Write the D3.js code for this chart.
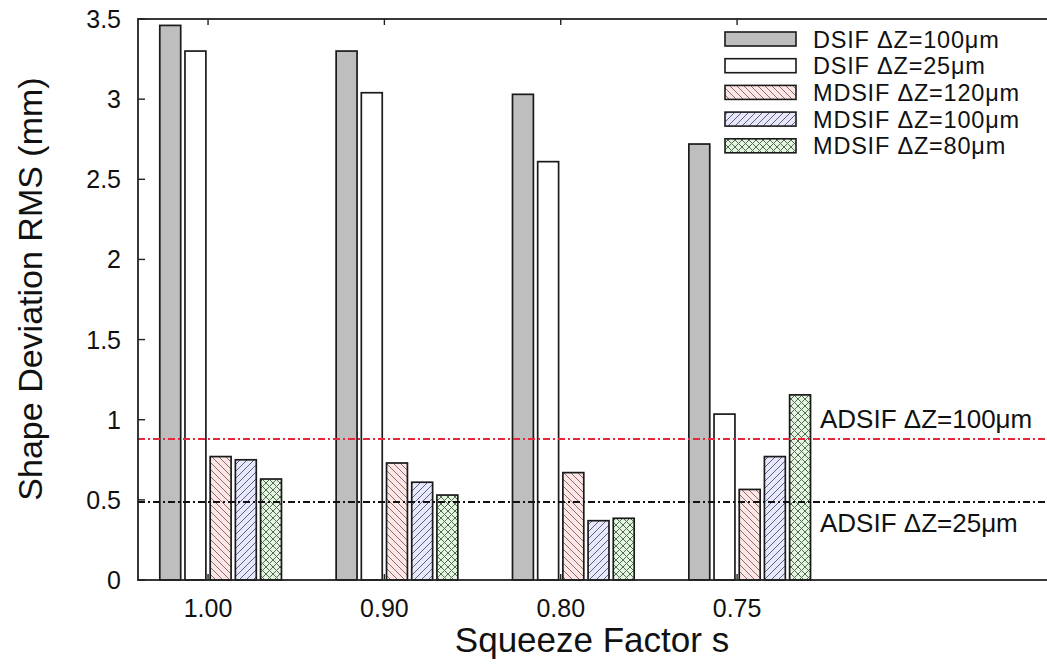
<!DOCTYPE html>
<html>
<head>
<meta charset="utf-8">
<script src="https://cdn.jsdelivr.net/npm/d3@7"></script>
<style>
  html, body { margin: 0; padding: 0; background: #fff; overflow: hidden; }
  text { font-family: "Liberation Sans", Arial, sans-serif; fill: #111; }
</style>
</head>
<body>
<svg id="chart" width="1047" height="666"></svg>
<script>
// squeeze factor categories
const categories = ["1.00", "0.90", "0.80", "0.75"];
const seriesNames = [
  "DSIF \u0394Z=100\u03bcm",
  "DSIF \u0394Z=25\u03bcm",
  "MDSIF \u0394Z=120\u03bcm",
  "MDSIF \u0394Z=100\u03bcm",
  "MDSIF \u0394Z=80\u03bcm"
];
const dsif100 = [3.46, 3.30, 3.03, 2.72];
const dsif25 = [3.30, 3.04, 2.61, 1.035];
const mdsif120 = [0.77, 0.73, 0.67, 0.565];
const mdsif100 = [0.75, 0.61, 0.37, 0.77];
const mdsif80 = [0.63, 0.53, 0.385, 1.155];
const refLines = [
  { label: "ADSIF \u0394Z=100\u03bcm", value: 0.88, color: "#e5283c", labelAbove: true },
  { label: "ADSIF \u0394Z=25\u03bcm", value: 0.487, color: "#111", labelAbove: false }
];
const yTicks = [0, 0.5, 1, 1.5, 2, 2.5, 3, 3.5];

const series = [dsif100, dsif25, mdsif120, mdsif100, mdsif80];
const fills = ["#bebebe", "#ffffff", "url(#hatchPink)", "url(#hatchBlue)", "url(#hatchGreen)"];

const svg = d3.select("#chart");
const plotL = 138, plotT = 19, plotB = 580, plotR = 1052;

// one unit = one bar slot, cluster of 5 bars + gap of 2
const clusterWidth = 7;
const x = d3.scaleLinear().domain([-2.78, 33.5]).range([plotL, plotR]);
const y = d3.scaleLinear().domain([0, 3.5]).range([plotB, plotT]);
const barW = 0.83;

// hatch patterns
const defs = svg.append("defs");
function hatch(id, bg, color, dirs) {
  const p = defs.append("pattern")
    .attr("id", id)
    .attr("patternUnits", "userSpaceOnUse")
    .attr("width", 7).attr("height", 7);
  p.append("rect").attr("width", 7).attr("height", 7).attr("fill", bg);
  dirs.forEach(d => {
    const path = d === "back"
      ? "M-1,-1 L8,8 M-1,6 L1,8 M6,-1 L8,1"
      : "M-1,8 L8,-1 M-1,1 L1,-1 M6,8 L8,6";
    p.append("path").attr("d", path)
      .attr("stroke", color).attr("stroke-width", 1).attr("fill", "none");
  });
}
hatch("hatchPink", "#fde6e6", "#8c6a6a", ["back"]);
hatch("hatchBlue", "#e8e8fb", "#5e5e8c", ["fwd"]);
hatch("hatchGreen", "#e4f4e0", "#4f6e4f", ["back", "fwd"]);

// bars
const bars = svg.append("g");
categories.forEach((cat, i) => {
  series.forEach((vals, j) => {
    const cx = i * clusterWidth + (j - 1.5);
    bars.append("rect")
      .attr("x", x(cx - barW / 2))
      .attr("y", y(vals[i]))
      .attr("width", x(barW) - x(0))
      .attr("height", y(0) - y(vals[i]))
      .attr("fill", fills[j])
      .attr("stroke", "#1a1a1a")
      .attr("stroke-width", 1.7);
  });
});

// reference lines
refLines.forEach(r => {
  svg.append("line")
    .attr("x1", plotL).attr("x2", plotR)
    .attr("y1", y(r.value)).attr("y2", y(r.value))
    .attr("stroke", r.color)
    .attr("stroke-width", 2)
    .attr("stroke-dasharray", "7,3,2,3");
  svg.append("text")
    .attr("x", 820)
    .attr("y", r.labelAbove ? y(r.value) - 11 : y(r.value) + 30)
    .attr("font-size", 26)
    .text(r.label);
});

// frame
svg.append("rect")
  .attr("x", plotL).attr("y", plotT)
  .attr("width", plotR - plotL).attr("height", plotB - plotT)
  .attr("fill", "none").attr("stroke", "#222").attr("stroke-width", 1.8);

// y axis ticks
yTicks.forEach(t => {
  svg.append("line")
    .attr("x1", plotL).attr("x2", plotL + 7)
    .attr("y1", y(t)).attr("y2", y(t))
    .attr("stroke", "#222").attr("stroke-width", 1.4);
  svg.append("text")
    .attr("x", 121).attr("y", y(t) + 9)
    .attr("text-anchor", "end")
    .attr("font-size", 25)
    .text(d3.format("~g")(t));
});

// x axis ticks
categories.forEach((cat, i) => {
  const px = x(i * clusterWidth);
  [[plotB, plotB - 6], [plotT, plotT + 6]].forEach(([a, b]) => {
    svg.append("line")
      .attr("x1", px).attr("x2", px)
      .attr("y1", a).attr("y2", b)
      .attr("stroke", "#222").attr("stroke-width", 1.4);
  });
  svg.append("text")
    .attr("x", px).attr("y", 617)
    .attr("text-anchor", "middle")
    .attr("font-size", 25)
    .text(cat);
});

// axis titles
svg.append("text")
  .attr("x", 592).attr("y", 652)
  .attr("text-anchor", "middle")
  .attr("font-size", 35)
  .text("Squeeze Factor s");
svg.append("text")
  .attr("transform", "translate(42,289) rotate(-90)")
  .attr("text-anchor", "middle")
  .attr("font-size", 34)
  .text("Shape Deviation RMS (mm)");

// legend (rows are tight, so slightly smaller font with some spacing)
const legend = svg.append("g");
seriesNames.forEach((name, j) => {
  const cy = 39 + j * 26.7;
  legend.append("rect")
    .attr("x", 725).attr("y", cy - 7)
    .attr("width", 71).attr("height", 14)
    .attr("fill", fills[j])
    .attr("stroke", "#1a1a1a").attr("stroke-width", 1.6);
  legend.append("text")
    .attr("x", 813).attr("y", cy + 8.5)
    .attr("font-size", 23.5)
    .attr("letter-spacing", 0.8)
    .text(name);
});
</script>
</body>
</html>
